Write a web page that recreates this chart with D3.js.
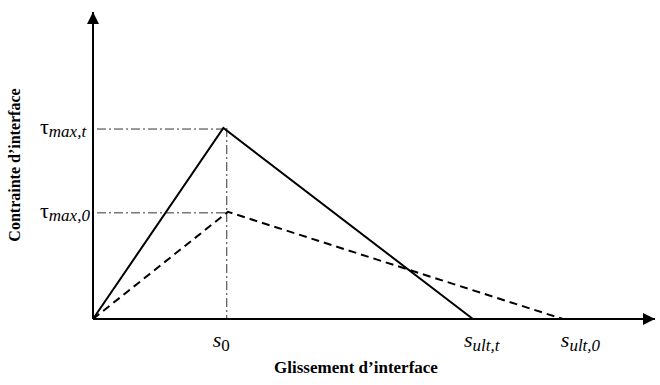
<!DOCTYPE html>
<html>
<head>
<meta charset="utf-8">
<script src="https://cdn.jsdelivr.net/npm/d3@7"></script>
<style>
  body { margin: 0; background: #fff; }
</style>
</head>
<body>
<div class="container"></div>
<script>
// values (arbitrary units)
const s0 = 2.38
const sUltT = 6.76
const sUlt0 = 8.36
const tauMaxT = 6.22
const tauMax0 = 3.49

const solidX = [0, 2.32, sUltT]
const solidY = [0, tauMaxT, 0]
const dashedX = [0, 2.4, sUlt0]
const dashedY = [0, tauMax0, 0]

const xLabels = [
  { v: s0, main: "s", sub: "0" },
  { v: sUltT, main: "s", sub: "ult,t" },
  { v: sUlt0, main: "s", sub: "ult,0" }
]
const yLabels = [
  { v: tauMaxT, sub: "max,t" },
  { v: tauMax0, sub: "max,0" }
]

const w = 660
const h = 385
const serif = "'Liberation Serif', 'Times New Roman', 'DejaVu Serif', serif"
const labelShift = [-14, -9, -2]

const xScale = d3.scaleLinear().domain([0, 10]).range([93, 655])
const yScale = d3.scaleLinear().domain([0, 10]).range([319, 12])

const svg = d3.select(".container")
  .append("svg")
  .attr("width", w)
  .attr("height", h)
  .attr("font-family", serif)

const defs = svg.append("defs")
defs.append("marker")
  .attr("id", "arrow")
  .attr("viewBox", "0 0 10 10")
  .attr("refX", 10)
  .attr("refY", 5)
  .attr("markerWidth", 12)
  .attr("markerHeight", 12)
  .attr("markerUnits", "userSpaceOnUse")
  .attr("orient", "auto")
  .append("path")
  .attr("d", "M0,0 L10,5 L0,10 Z")
  .attr("fill", "#000")

// guide lines (dash-dot)
const guide = "9,3,2,3"
yLabels.forEach(d => {
  const peakX = d.v === tauMaxT ? 2.32 : 2.4
  svg.append("line")
    .attr("x1", xScale(0) + 4).attr("x2", xScale(peakX))
    .attr("y1", yScale(d.v) + 1).attr("y2", yScale(d.v) + 1)
    .attr("stroke", "#333").attr("stroke-width", 1)
    .attr("stroke-dasharray", guide)
})
svg.append("line")
  .attr("x1", xScale(s0)).attr("x2", xScale(s0))
  .attr("y1", yScale(tauMaxT)).attr("y2", yScale(0))
  .attr("stroke", "#333").attr("stroke-width", 1)
  .attr("stroke-dasharray", guide)

// axes
svg.append("line")
  .attr("x1", xScale(0)).attr("y1", yScale(0))
  .attr("x2", xScale(10)).attr("y2", yScale(0))
  .attr("stroke", "#000").attr("stroke-width", 2)
  .attr("marker-end", "url(#arrow)")
svg.append("line")
  .attr("x1", xScale(0)).attr("y1", yScale(0))
  .attr("x2", xScale(0)).attr("y2", yScale(10))
  .attr("stroke", "#000").attr("stroke-width", 2)
  .attr("marker-end", "url(#arrow)")

const line = d3.line()
  .x(d => xScale(d[0]))
  .y(d => yScale(d[1]))

svg.append("path")
  .datum(solidX.map((x, i) => [x, solidY[i]]))
  .attr("d", line)
  .attr("fill", "none")
  .attr("stroke", "#000")
  .attr("stroke-width", 2)

svg.append("path")
  .datum(dashedX.map((x, i) => [x, dashedY[i]]))
  .attr("d", line)
  .attr("fill", "none")
  .attr("stroke", "#000")
  .attr("stroke-width", 2)
  .attr("stroke-dasharray", "8,5")

// x labels
xLabels.forEach((d, i) => {
  const t = svg.append("text")
    .attr("x", xScale(d.v) + labelShift[i])
    .attr("y", 347)
    .style("font-size", "22px")
  t.append("tspan").attr("font-style", "italic").text(d.main)
  t.append("tspan").attr("dy", 4).style("font-size", "17px")
    .attr("font-style", d.sub === "0" ? "normal" : "italic")
    .text(d.sub)
})

// y labels
yLabels.forEach(d => {
  const t = svg.append("text")
    .attr("x", 40)
    .attr("y", yScale(d.v) + 6)
    .style("font-size", "22px")
  t.append("tspan").text("τ")
  t.append("tspan").attr("dy", 3).style("font-size", "17px")
    .attr("font-style", "italic").text(d.sub)
})

// axis titles
svg.append("text")
  .attr("x", 356)
  .attr("y", 373)
  .style("text-anchor", "middle")
  .style("font-size", "17px")
  .style("font-weight", "bold")
  .text("Glissement d’interface")

svg.append("text")
  .attr("transform", "rotate(-90)")
  .attr("x", -165)
  .attr("y", 20)
  .style("text-anchor", "middle")
  .style("font-size", "16px")
  .style("font-weight", "bold")
  .text("Contrainte d’interface")
</script>
</body>
</html>
